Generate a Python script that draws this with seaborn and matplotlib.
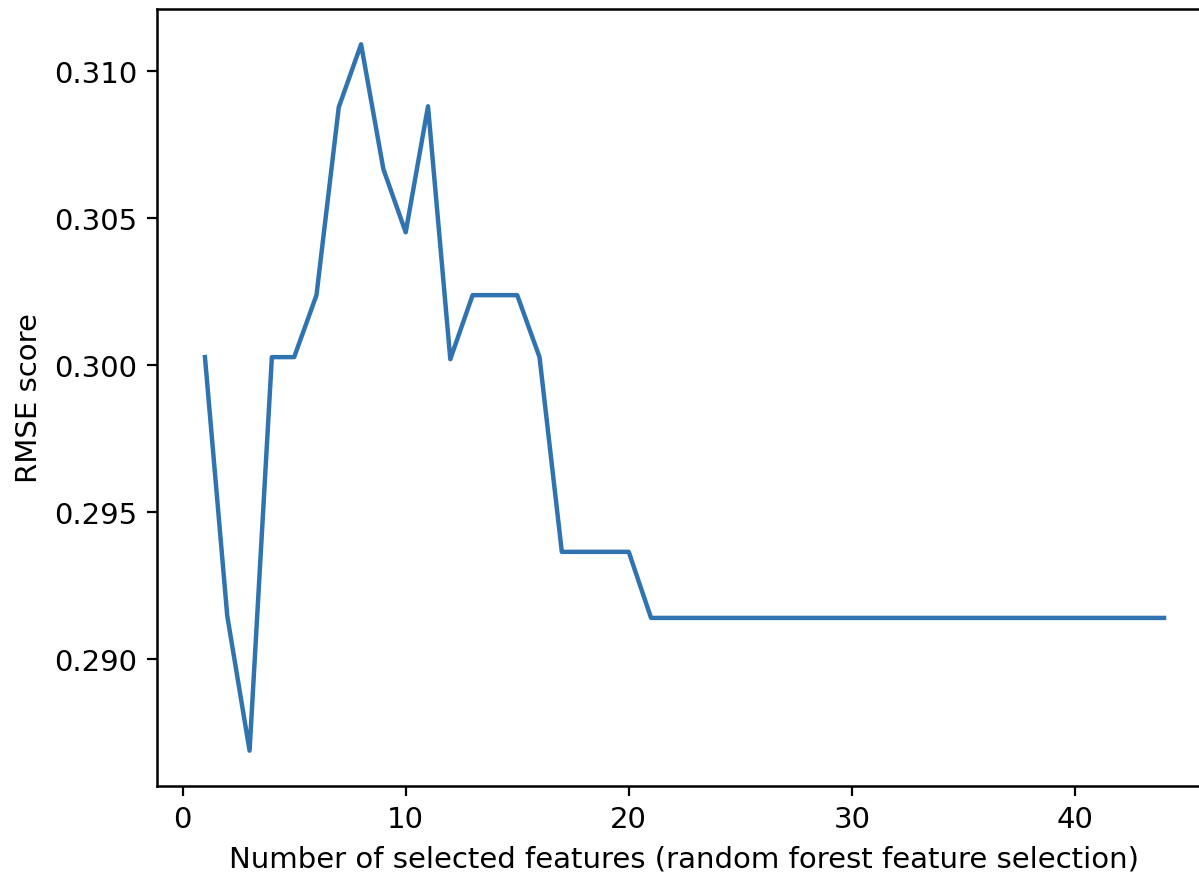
import numpy as np
import pandas as pd
import seaborn as sns
import matplotlib
matplotlib.use("Agg")
import matplotlib.pyplot as plt

# Values
n_features = list(range(1, 45))
rmse_head = [0.30027, 0.29146, 0.28687, 0.30027, 0.30027, 0.30238, 0.30878,
             0.31092, 0.30667, 0.30452, 0.30881, 0.30020, 0.30238, 0.30238,
             0.30238, 0.30027, 0.29364, 0.29364, 0.29364, 0.29364]
rmse_tail = [0.29139] * 24
rmse = rmse_head + rmse_tail

df = pd.DataFrame({"n_features": n_features, "rmse": rmse})

plt.rcParams["font.size"] = 10.5
plt.rcParams["axes.linewidth"] = 0.9

W, H, DPI = 1199, 878, 200
fig = plt.figure(figsize=(W / DPI, H / DPI), dpi=DPI)
# right edge of the axes sits past the image edge, as in the reference
ax = fig.add_axes([157 / W, 1 - 787 / H, 1055 / W, 777 / H])

sns.lineplot(data=df, x="n_features", y="rmse", color="#2f74b0",
             linewidth=1.6, ax=ax)

ax.set_xticks([0, 10, 20, 30, 40])
ax.set_yticks([0.290, 0.295, 0.300, 0.305, 0.310])
ax.set_xlabel("Number of selected features (random forest feature selection)")
ax.set_ylabel("RMSE score")
ax.spines["right"].set_visible(False)

fig.savefig("out.png", dpi=DPI)
